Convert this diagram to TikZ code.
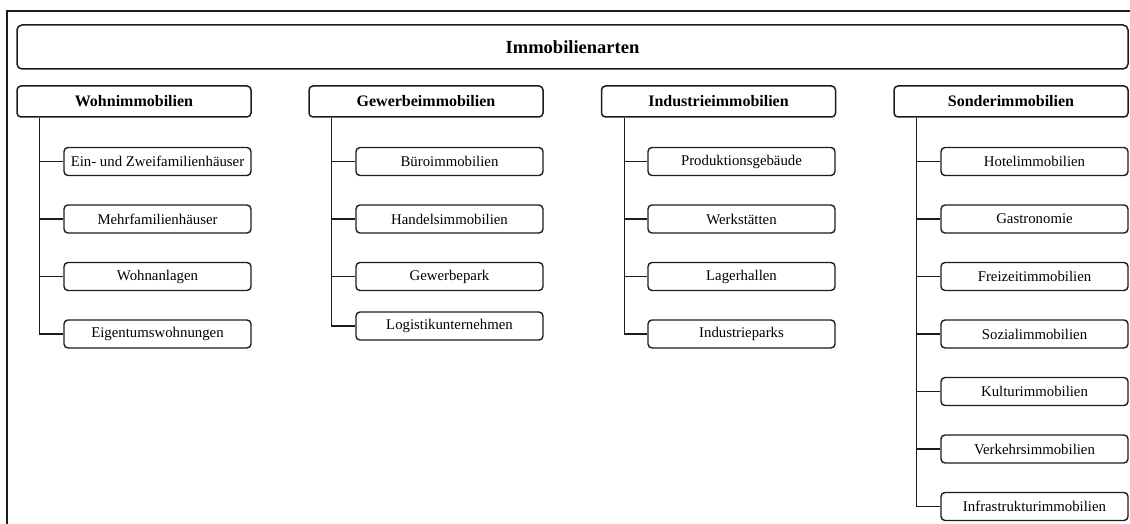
\documentclass[tikz,border=0pt]{standalone}
\usepackage{fontspec}
\setmainfont{Liberation Serif}
\usepackage{tikz}
\usetikzlibrary{positioning}
\definecolor{InkDark}{HTML}{1C1C1C}
\tikzset{
  topbox/.style={rectangle, rounded corners=5pt, draw=InkDark, line width=1.5pt, fill=white,
             minimum width=1111pt, minimum height=44pt, inner sep=0pt,
             font=\fontsize{18.5}{21}\selectfont\bfseries},
  catbox/.style={rectangle, rounded corners=4pt, draw=InkDark, line width=1.5pt, fill=white,
             minimum width=234pt, minimum height=31pt, inner sep=0pt,
             font=\fontsize{16}{19}\selectfont\bfseries},
  subbox/.style={rectangle, rounded corners=4pt, draw=InkDark, line width=1.4pt, fill=white,
             minimum width=187pt, minimum height=28pt, inner sep=0pt,
             font=\fontsize{14.8}{17}\selectfont},
  conn/.style={line width=1.3pt, draw=InkDark},
  frameedge/.style={line width=2pt, draw=InkDark},
}
\begin{document}
\begin{tikzpicture}[x=1pt, y=-1pt]
\useasboundingbox (0,0) rectangle (1130,524);
\draw[frameedge] (6.5,524) -- (6.5,11) -- (1130,11);
\node[topbox] (top) at (572.5,47) {Immobilienarten};
% Wohnimmobilien
\node[catbox] (wohn) at (134,101.5) {Wohnimmobilien};
\node[subbox] (wohn1) at (157.5,161.5) {Ein- und Zweifamilienhäuser};
\node[subbox] (wohn2) at (157.5,219) {Mehrfamilienhäuser};
\node[subbox] (wohn3) at (157.5,276.5) {Wohnanlagen};
\node[subbox] (wohn4) at (157.5,334) {Eigentumswohnungen};
% Gewerbeimmobilien
\node[catbox] (gew) at (426,101.5) {Gewerbeimmobilien};
\node[subbox] (gew1) at (449.5,161.5) {Büroimmobilien};
\node[subbox] (gew2) at (449.5,219) {Handelsimmobilien};
\node[subbox] (gew3) at (449.5,276.5) {Gewerbepark};
\node[subbox] (gew4) at (449.5,326) {Logistikunternehmen};
% Industrieimmobilien
\node[catbox] (ind) at (718.5,101.5) {Industrieimmobilien};
\node[subbox] (ind1) at (741.5,161.5) {Produktionsgebäude};
\node[subbox] (ind2) at (741.5,219) {Werkstätten};
\node[subbox] (ind3) at (741.5,276.5) {Lagerhallen};
\node[subbox] (ind4) at (741.5,334) {Industrieparks};
% Sonderimmobilien
\node[catbox] (sond) at (1011,101.5) {Sonderimmobilien};
\node[subbox] (sond1) at (1034.5,161.5) {Hotelimmobilien};
\node[subbox] (sond2) at (1034.5,219) {Gastronomie};
\node[subbox] (sond3) at (1034.5,276.5) {Freizeitimmobilien};
\node[subbox] (sond4) at (1034.5,334) {Sozialimmobilien};
\node[subbox] (sond5) at (1034.5,391.5) {Kulturimmobilien};
\node[subbox] (sond6) at (1034.5,449) {Verkehrsimmobilien};
\node[subbox] (sond7) at (1034.5,506.5) {Infrastrukturimmobilien};
% connectors
\draw[conn] ([xshift=23.5pt]wohn.south west) |- (wohn1.west);
\draw[conn] ([xshift=23.5pt]wohn.south west) |- (wohn2.west);
\draw[conn] ([xshift=23.5pt]wohn.south west) |- (wohn3.west);
\draw[conn] ([xshift=23.5pt]wohn.south west) |- (wohn4.west);
\draw[conn] ([xshift=23.5pt]gew.south west) |- (gew1.west);
\draw[conn] ([xshift=23.5pt]gew.south west) |- (gew2.west);
\draw[conn] ([xshift=23.5pt]gew.south west) |- (gew3.west);
\draw[conn] ([xshift=23.5pt]gew.south west) |- (gew4.west);
\draw[conn] ([xshift=23.5pt]ind.south west) |- (ind1.west);
\draw[conn] ([xshift=23.5pt]ind.south west) |- (ind2.west);
\draw[conn] ([xshift=23.5pt]ind.south west) |- (ind3.west);
\draw[conn] ([xshift=23.5pt]ind.south west) |- (ind4.west);
\draw[conn] ([xshift=23.5pt]sond.south west) |- (sond1.west);
\draw[conn] ([xshift=23.5pt]sond.south west) |- (sond2.west);
\draw[conn] ([xshift=23.5pt]sond.south west) |- (sond3.west);
\draw[conn] ([xshift=23.5pt]sond.south west) |- (sond4.west);
\draw[conn] ([xshift=23.5pt]sond.south west) |- (sond5.west);
\draw[conn] ([xshift=23.5pt]sond.south west) |- (sond6.west);
\draw[conn] ([xshift=23.5pt]sond.south west) |- (sond7.west);
\end{tikzpicture}
\end{document}
